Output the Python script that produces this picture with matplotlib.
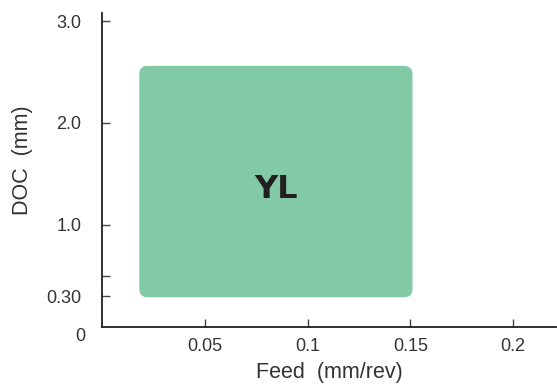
import matplotlib
matplotlib.use("Agg")
import matplotlib.pyplot as plt
from matplotlib.patches import FancyBboxPatch

plt.rcParams['font.family'] = ['Liberation Sans', 'DejaVu Sans']

# region of the YL grade (feed range, depth-of-cut range)
region_name = "YL"
feed_range = [0.018, 0.151]
doc_range = [0.29, 2.56]

x_ticks = [0.05, 0.1, 0.15, 0.2]
x_tick_labels = ["0.05", "0.1", "0.15", "0.2"]
y_ticks = [0.30, 0.5, 1.0, 2.0, 3.0]
y_tick_labels = ["0.30", "", "1.0", "2.0", "3.0"]

fill = '#82c9a5'
ink = '#333333'

fig = plt.figure(figsize=(5.57, 3.90), dpi=100)
ax = fig.add_axes([0.1837, 0.162, 0.815, 0.805])
ax.set_xlim(0, 0.221)
ax.set_ylim(0, 3.08)

# rounded box; mutation_aspect = (y units per px) / (x units per px)
w = feed_range[1] - feed_range[0]
h = doc_range[1] - doc_range[0]
box = FancyBboxPatch((feed_range[0], doc_range[0]), w, h,
                     boxstyle="round,pad=0,rounding_size=0.004",
                     mutation_aspect=20.2,
                     facecolor=fill, edgecolor='none', zorder=1)
ax.add_patch(box)
ax.text(sum(feed_range) / 2, 1.35, region_name, ha='center', va='center',
        fontsize=23, fontweight='heavy', color='#231f20',
        family=['DejaVu Sans'])

for s in ['top', 'right']:
    ax.spines[s].set_visible(False)
for s in ['left', 'bottom']:
    ax.spines[s].set_color('#231f20')
    ax.spines[s].set_linewidth(1.3)

ax.set_xticks(x_ticks)
ax.set_xticklabels(x_tick_labels)
ax.set_yticks(y_ticks)
ax.set_yticklabels(y_tick_labels)
ax.tick_params(axis='both', direction='in', length=6, width=1, color='#444444',
               labelsize=13, labelcolor=ink)
ax.tick_params(axis='y', pad=15)
ax.tick_params(axis='x', pad=8)

ax.annotate("0", xy=(0, 0), xytext=(-16, -7), textcoords='offset points',
            ha='center', va='center', fontsize=13, color=ink,
            annotation_clip=False)

ax.set_xlabel("Feed  (mm/rev)", fontsize=15.5, color=ink, labelpad=5)
ax.set_ylabel("DOC  (mm)", fontsize=15.5, color=ink)
ax.yaxis.set_label_coords(-0.153, 0.53)

fig.savefig("out.png", dpi=100)
